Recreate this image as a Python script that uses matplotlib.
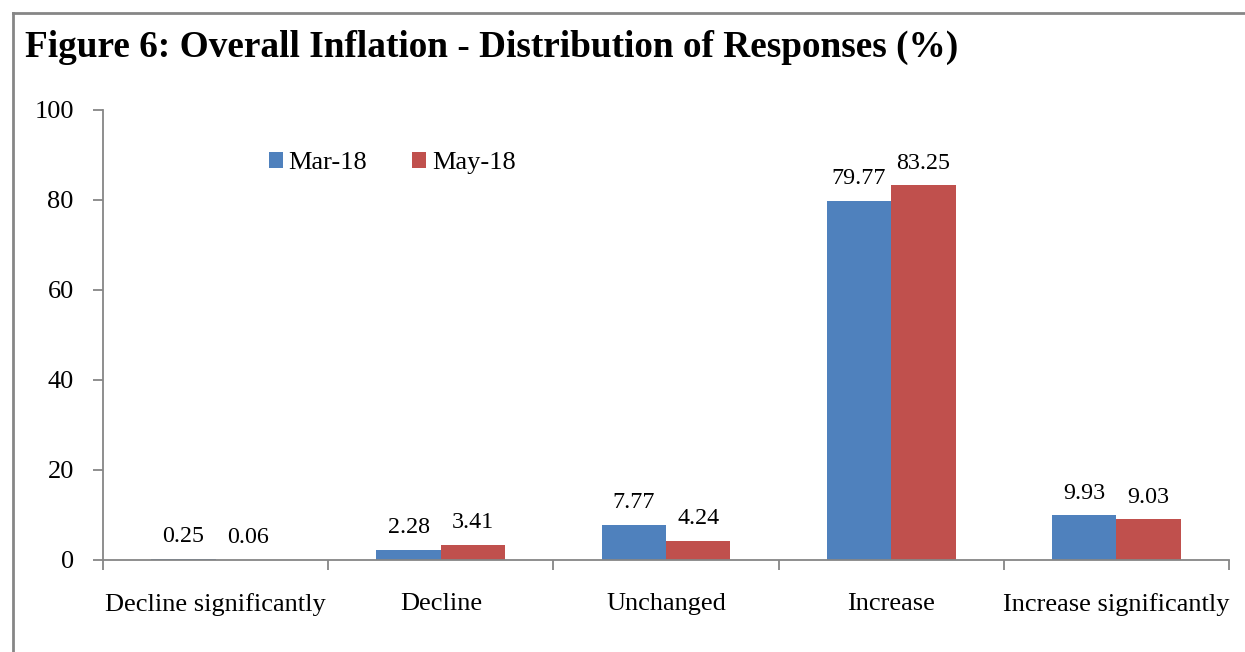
import matplotlib.pyplot as plt
import numpy as np
from matplotlib.lines import Line2D

# ---------------------------------------------
#  DADOS
# ---------------------------------------------
categorias = ["Decline significantly", "Decline", "Unchanged",
              "Increase", "Increase significantly"]
mar_18 = [0.25, 2.28, 7.77, 79.77, 9.93]
may_18 = [0.06, 3.41, 4.24, 83.25, 9.03]
series = ["Mar-18", "May-18"]
cores = ["#4F81BD", "#C0504D"]
yticks = [0, 20, 40, 60, 80, 100]

CINZA = "#868686"

plt.rcParams['font.family'] = ['Liberation Serif', 'DejaVu Serif']

fig = plt.figure(figsize=(12.45, 6.52), dpi=100)
ax = fig.add_axes([103 / 1245, 92 / 652, (1229 - 103) / 1245, 450 / 652])

x = np.arange(len(categorias))
largura = 0.286

b1 = ax.bar(x - largura / 2, mar_18, largura, color=cores[0], label=series[0])
b2 = ax.bar(x + largura / 2, may_18, largura, color=cores[1], label=series[1])

for barras in (b1, b2):
    ax.bar_label(barras, labels=[f"{v:.2f}" for v in barras.datavalues],
                 padding=8.5, fontsize=17.3)

ax.set_xlim(-0.5, len(categorias) - 0.5)
ax.set_ylim(0, 100)
ax.set_yticks(yticks)
ax.set_xticks(x)
ax.set_xticklabels(categorias)
ax.set_xticks(np.arange(len(categorias) + 1) - 0.5, minor=True)

ax.tick_params(axis='x', which='major', length=0, pad=23.5, labelsize=19)
ax.tick_params(axis='x', which='minor', length=7, width=1.3, color=CINZA,
               direction='out')
ax.tick_params(axis='y', length=7, width=1.3, color=CINZA, pad=14,
               labelsize=19)

for lado in ("top", "right"):
    ax.spines[lado].set_visible(False)
for lado in ("left", "bottom"):
    ax.spines[lado].set_color(CINZA)
    ax.spines[lado].set_linewidth(1.3)

leg = fig.legend(loc='center', bbox_to_anchor=(392 / 1245, 1 - 163 / 652),
                 ncol=2, frameon=False, fontsize=19, handlelength=0.55,
                 handleheight=0.55, handletextpad=0.2, columnspacing=1.7)

fig.text(25 / 1245, 1 - 47 / 652,
         "Figure 6: Overall Inflation - Distribution of Responses (%)",
         fontsize=26.8, fontweight='bold', va='center', ha='left')

# moldura cinza (topo e lado esquerdo)
fig.add_artist(Line2D([13 / 1245, 13 / 1245], [0, 1 - 13 / 652],
                      color=CINZA, linewidth=2, transform=fig.transFigure))
fig.add_artist(Line2D([13 / 1245, 1], [1 - 13 / 652, 1 - 13 / 652],
                      color=CINZA, linewidth=2, transform=fig.transFigure))

fig.savefig("out.png", dpi=100)
